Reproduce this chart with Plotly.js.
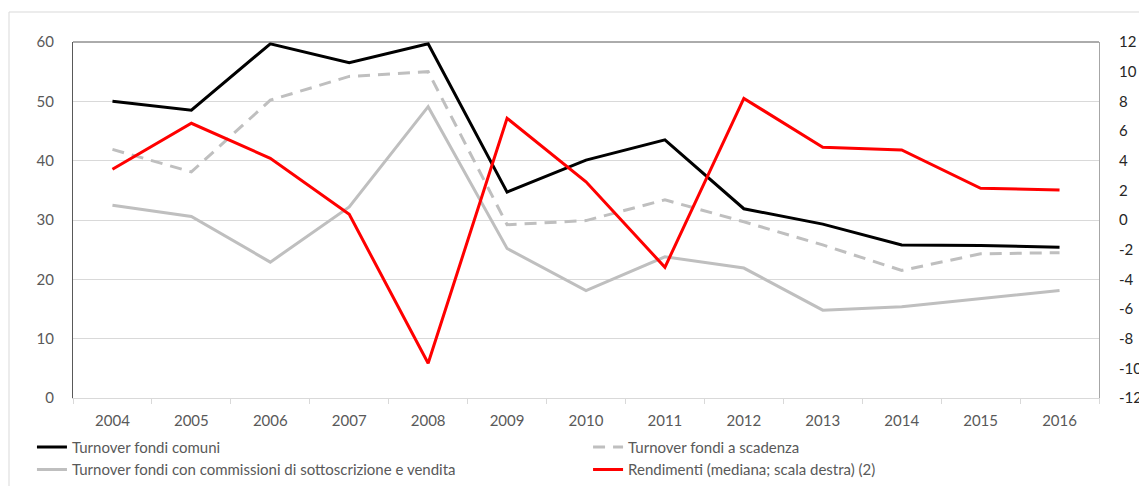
<!DOCTYPE html>
<html>
<head>
<meta charset="utf-8">
<script src="https://cdn.plot.ly/plotly-3.0.1.min.js"></script>
<style>html,body{margin:0;padding:0;background:#fff;}#chart{width:1139px;height:486px;}</style>
</head>
<body>
<div id="chart"></div>
<script>
const years = ['2004','2005','2006','2007','2008','2009','2010','2011','2012','2013','2014','2015','2016'];
const turnoverComuni = [50.0, 48.5, 59.7, 56.5, 59.7, 34.7, 40.1, 43.5, 31.9, 29.3, 25.8, 25.7, 25.4];
const turnoverScadenza = [41.9, 38.1, 50.2, 54.2, 55.0, 29.2, 29.9, 33.4, 29.7, 25.8, 21.5, 24.3, 24.5];
const turnoverCommissioni = [32.5, 30.6, 22.9, 32.2, 49.1, 25.2, 18.1, 23.8, 21.9, 14.8, 15.4, 16.8, 18.1];
const rendimenti = [3.42, 6.52, 4.16, 0.38, -9.66, 6.86, 2.58, -3.19, 8.2, 4.9, 4.72, 2.14, 2.02];
const leftTicks = [0, 10, 20, 30, 40, 50, 60];
const rightTicks = [-12, -10, -8, -6, -4, -2, 0, 2, 4, 6, 8, 10, 12];

const FONT = 'Lato, "Open Sans", sans-serif';
const traces = [
  {x: years, y: turnoverComuni, name: 'Turnover fondi comuni', type: 'scatter', mode: 'lines',
   legend: 'legend', line: {color: '#000000', width: 3}},
  {x: years, y: turnoverScadenza, name: 'Turnover fondi a scadenza', type: 'scatter', mode: 'lines',
   legend: 'legend2', line: {color: '#bfbfbf', width: 3, dash: '12px,8px'}},
  {x: years, y: turnoverCommissioni, name: 'Turnover fondi con commissioni di sottoscrizione e vendita', type: 'scatter', mode: 'lines',
   legend: 'legend', line: {color: '#bfbfbf', width: 3}},
  {x: years, y: rendimenti, name: 'Rendimenti (mediana; scala destra) (2)', type: 'scatter', mode: 'lines',
   legend: 'legend2', yaxis: 'y2', line: {color: '#ff0000', width: 3}}
];

const legendCommon = {orientation: 'v', yanchor: 'top', xanchor: 'left', traceorder: 'normal',
  font: {family: FONT, size: 15, color: '#595959'}, bgcolor: 'rgba(0,0,0,0)', tracegroupgap: 0};

const layout = {
  width: 1139, height: 486,
  margin: {l: 73, r: 40, t: 42, b: 88, autoexpand: false},
  paper_bgcolor: '#ffffff', plot_bgcolor: '#ffffff',
  font: {family: FONT, size: 15, color: '#595959'},
  showlegend: true,
  legend: Object.assign({}, legendCommon, {x: -0.04, y: -0.092}),
  legend2: Object.assign({}, legendCommon, {x: 0.502, y: -0.092}),
  xaxis: {type: 'category', categoryarray: years, range: [-0.5, 12.5], tickson: 'boundaries', ticks: 'outside', ticklen: 5,
          tickcolor: '#d9d9d9', showline: true, linecolor: '#d9d9d9', linewidth: 1, showgrid: false,
          zeroline: false, tickfont: {size: 15, color: '#595959'}, ticklabelstandoff: 9, fixedrange: true},
  yaxis: {range: [0, 60], tickvals: leftTicks, ticktext: leftTicks.map(String), showgrid: true, gridcolor: '#d9d9d9',
          gridwidth: 1, showline: true, linecolor: '#595959', linewidth: 1, zeroline: false, ticks: '',
          tickfont: {size: 15, color: '#595959'}, ticklabelstandoff: 15},
  yaxis2: {overlaying: 'y', side: 'right', range: [-12, 12], tickvals: rightTicks, ticktext: rightTicks.map(String),
           showgrid: false, zeroline: false, showline: true, linecolor: '#a6a6a6', linewidth: 1, ticks: '',
           tickfont: {size: 15, color: '#262626'}, ticklabelstandoff: 16},
  shapes: [
    {type: 'line', xref: 'paper', yref: 'paper', x0: 0, x1: 1, y0: 1, y1: 1, line: {color: '#595959', width: 1}},
    {type: 'rect', xref: 'paper', yref: 'paper', x0: (9 - 73) / 1026, x1: 1.2, y0: (398 - 12) / 356, y1: -0.5,
     line: {color: '#d9d9d9', width: 1}, fillcolor: 'rgba(0,0,0,0)', layer: 'below'}
  ]
};

Plotly.newPlot('chart', traces, layout, {displayModeBar: false, staticPlot: true});
</script>
</body>
</html>
